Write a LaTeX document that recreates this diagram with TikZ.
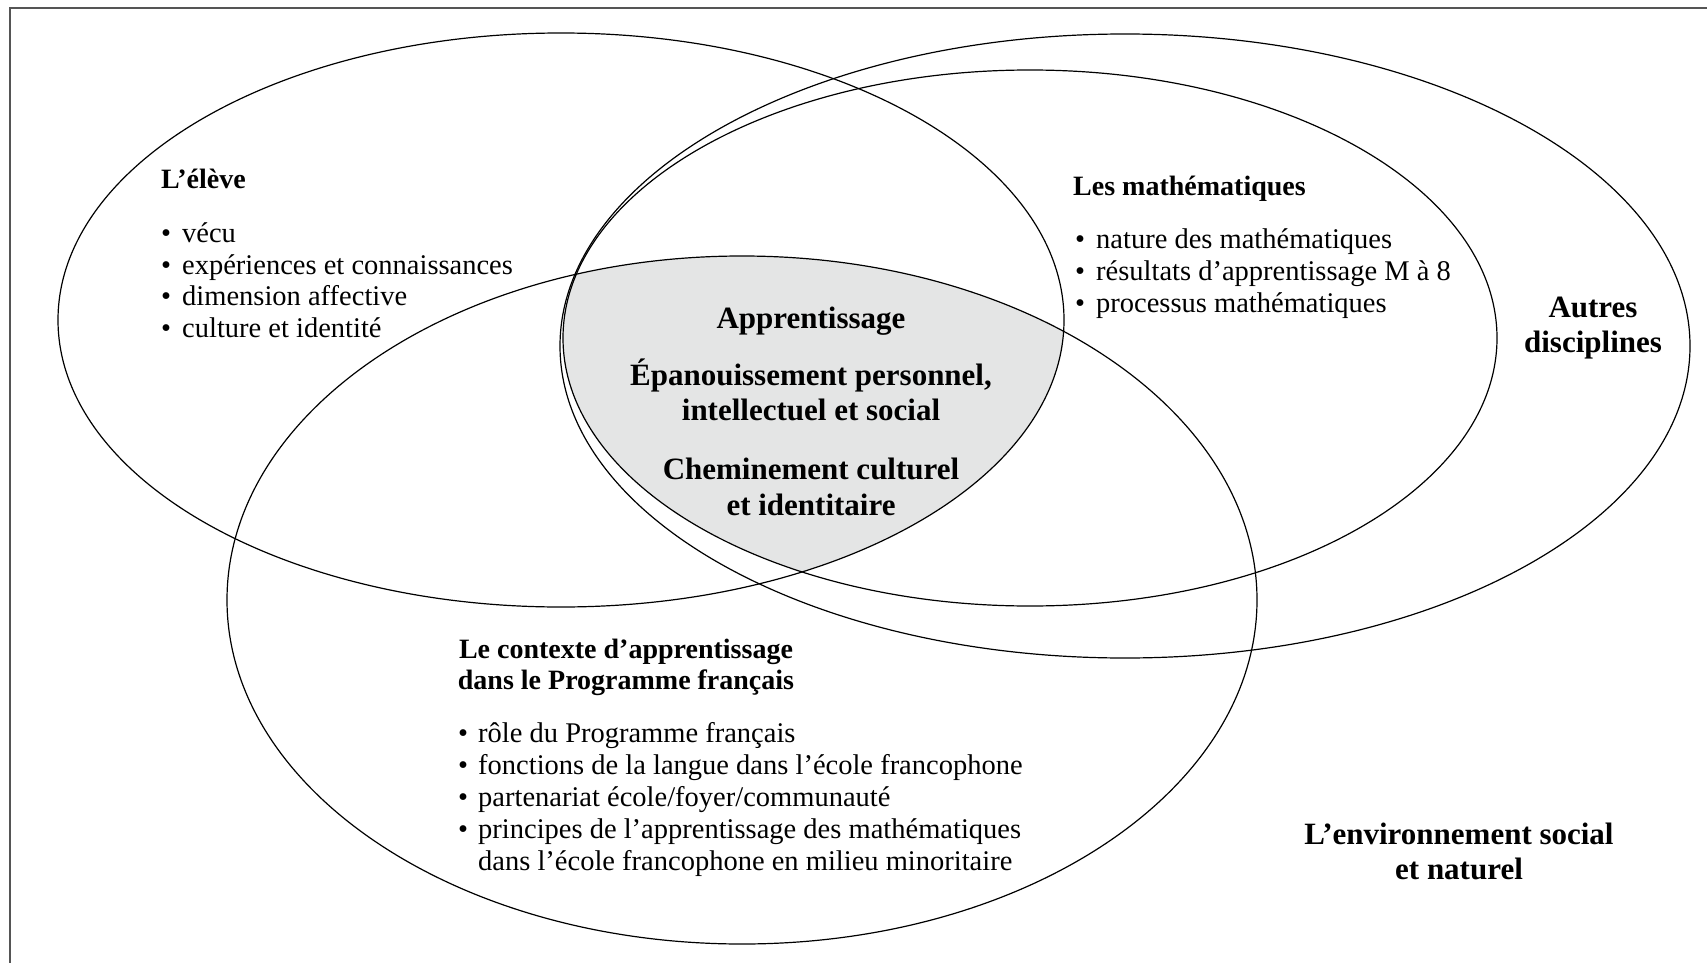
\documentclass[tikz,border=0pt]{standalone}
\usepackage{fontspec}
\setmainfont{Liberation Serif}
\definecolor{shadecol}{RGB}{228,229,229}
\definecolor{framecol}{RGB}{85,85,85}
\begin{document}
\begin{tikzpicture}[x=1pt,y=-1pt,
  venn/.style={line width=1.2pt, draw=black},
  frameline/.style={line width=2.4pt, draw=framecol},
  reg/.style={font=\fontsize{28.5}{31.6}\selectfont, inner sep=0pt, anchor=base west},
  ttl/.style={font=\bfseries\fontsize{28}{33}\selectfont, inner sep=0pt},
  big/.style={font=\bfseries\fontsize{31}{35}\selectfont, inner sep=0pt, anchor=base}]
\useasboundingbox (0,0) rectangle (1707,963);
\def\EA{(561,320) ellipse [x radius=503pt, y radius=287pt]}
\def\EB{(1030,338) ellipse [x radius=467pt, y radius=268pt]}
\def\EC{(1125,346) ellipse [x radius=565pt, y radius=312pt]}
\def\ED{(742,600) ellipse [x radius=515pt, y radius=344pt]}
% frame
\draw[frameline] (1707,8) -- (10,8) -- (10,963);
% shaded intersection
\begin{scope}
  \clip \EA;
  \clip \ED;
  \clip \EB;
  \fill[fill=shadecol] \EC;
\end{scope}
\draw[venn] \EA;
\draw[venn] \EB;
\draw[venn] \EC;
\draw[venn] \ED;
% L'élève
\node[ttl, anchor=base west] (eleve) at (161,188) {L’élève};
\node[reg] (e1) at (161,242) {\makebox[21pt][l]{\textbullet}vécu};
\node[reg] (e2) at (161,274) {\makebox[21pt][l]{\textbullet}expériences et connaissances};
\node[reg] (e3) at (161,305.5) {\makebox[21pt][l]{\textbullet}dimension affective};
\node[reg] (e4) at (161,337) {\makebox[21pt][l]{\textbullet}culture et identité};
% Les mathématiques
\node[ttl, anchor=base west] (maths) at (1073,195) {Les mathématiques};
\node[reg] (m1) at (1075,248) {\makebox[21pt][l]{\textbullet}nature des mathématiques};
\node[reg] (m2) at (1075,280) {\makebox[21pt][l]{\textbullet}résultats d’apprentissage M à 8};
\node[reg] (m3) at (1075,312) {\makebox[21pt][l]{\textbullet}processus mathématiques};
% Autres disciplines
\node[big] (autres1) at (1593,317) {Autres};
\node[big] (autres2) at (1593,352) {disciplines};
% centre
\node[big] (c1) at (811,328) {Apprentissage};
\node[big] (c2) at (811,385) {Épanouissement personnel,};
\node[big] (c3) at (811,420) {intellectuel et social};
\node[big] (c4) at (811,479) {Cheminement culturel};
\node[big] (c5) at (811,515) {et identitaire};
% contexte
\node[ttl, anchor=base] (k1) at (626,658) {Le contexte d’apprentissage};
\node[ttl, anchor=base] (k2) at (626,689) {dans le Programme français};
\node[reg] (p1) at (458,742) {\makebox[20pt][l]{\textbullet}rôle du Programme français};
\node[reg] (p2) at (458,774) {\makebox[20pt][l]{\textbullet}fonctions de la langue dans l’école francophone};
\node[reg] (p3) at (458,806) {\makebox[20pt][l]{\textbullet}partenariat école/foyer/communauté};
\node[reg] (p4) at (458,838) {\makebox[20pt][l]{\textbullet}principes de l’apprentissage des mathématiques};
\node[reg] (p5) at (478,870) {dans l’école francophone en milieu minoritaire};
% environnement
\node[big] (env1) at (1459,844) {L’environnement social};
\node[big] (env2) at (1459,879) {et naturel};
\end{tikzpicture}
\end{document}
